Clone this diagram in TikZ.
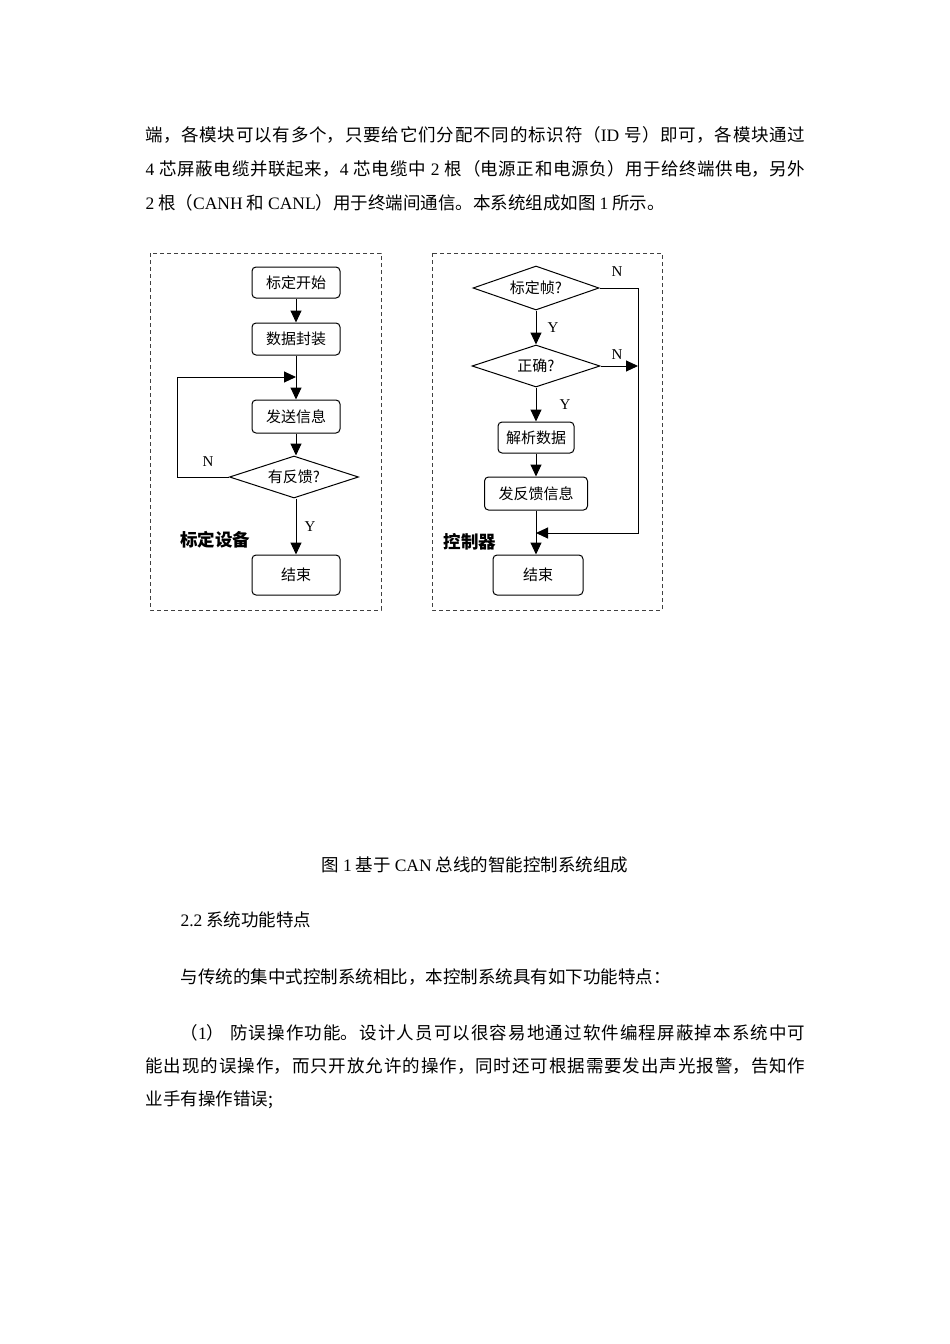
\documentclass[tikz,border=0pt]{standalone}
\usepackage{fontspec}
\setmainfont{Liberation Serif}
\newfontfamily\zh{Noto Sans CJK SC}
\newfontfamily\lat{Liberation Serif}
\newcommand\en[1]{{\lat #1}}
\XeTeXlinebreaklocale "zh"
\XeTeXlinebreakskip=0pt plus 1pt
\usetikzlibrary{arrows.meta,shapes.geometric}

\begin{document}
\begin{tikzpicture}[x=1pt,y=-1pt,
  box/.style={draw,rounded corners=4pt,line width=1pt,minimum width=88pt,minimum height=32pt,inner sep=0pt,font=\zh\fontsize{15}{18}\selectfont},
  dec/.style={draw,diamond,aspect=3,line width=1pt,minimum width=129pt,minimum height=42pt,inner sep=0pt,font=\zh\fontsize{15}{18}\selectfont},
  lbl/.style={inner sep=0pt,font=\lat\fontsize{15}{18}\selectfont},
  tag/.style={inner sep=0pt,font=\zh\bfseries\fontsize{17.5}{20}\selectfont},
  frame/.style={draw=black!75,line width=0.9pt,dash pattern=on 4pt off 3pt},
  para/.style={inner sep=0pt,text width=660pt,align=justify,font=\zh\fontsize{17.5}{34}\selectfont},
  txt/.style={inner sep=0pt,font=\zh\fontsize{17.5}{20}\selectfont},
  >={Triangle[length=12pt,width=11pt]},line width=1pt]
\useasboundingbox (0,0) rectangle (950,1344);

% text above the figure
\node[para,anchor=north west] (p1) at (145,126) {端，各模块可以有多个，只要给它们分配不同的标识符（\en{ID} 号）即可，各模块通过\linebreak
\en{4} 芯屏蔽电缆并联起来，\en{4} 芯电缆中 \en{2} 根（电源正和电源负）用于给终端供电，另外\linebreak
\en{2} 根（\en{CANH} 和 \en{CANL}）用于终端间通信。本系统组成如图 \en{1} 所示。};

% calibration device
\draw[frame] (150,253) rectangle (381,610);
\node[box,minimum height=31pt] (ks) at (296,282.5) {标定开始};
\node[box] (fz) at (296,339) {数据封装};
\node[box,minimum height=33pt] (fs) at (296,416.5) {发送信息};
\node[dec] (fk) at (294,477) {有反馈?};
\node[box,minimum height=40pt] (js1) at (296,575) {结束};
\coordinate (lc) at (177,377);
\coordinate (lj) at (296,377);
\draw[->] (ks) -- (fz);
\draw[->] (fz) -- (fs);
\draw[->] (fs) -- (fs |- fk.north);
\draw[->] (fk.south -| js1) -- (js1);
\draw[->] (fk.west) -| (lc) -- (lj);
\node[lbl] (n1) at (208,462) {N};
\node[lbl] (y1) at (310,527) {Y};
\node[tag] (t1) at (215,540) {标定设备};

% controller
\draw[frame] (432,253) rectangle (662,610);
\node[dec,minimum width=126pt,minimum height=44pt] (bd) at (536,288) {标定帧?};
\node[dec,minimum width=128pt] (zq) at (536,366) {正确?};
\node[box,minimum width=76pt,minimum height=31pt] (jx) at (536,437.5) {解析数据};
\node[box,minimum width=103pt,minimum height=33pt] (ff) at (536,493.5) {发反馈信息};
\node[box,minimum width=90pt,minimum height=40pt] (js2) at (538,575) {结束};
\coordinate (rc) at (638,533);
\coordinate (rj) at (536,533);
\coordinate (rn) at (638,366);
\draw[->] (bd) -- (zq);
\draw[->] (zq) -- (jx);
\draw[->] (jx) -- (ff);
\draw[->] (ff) -- (ff |- js2.north);
\draw[->] (bd.east) -| (rc) -- (rj);
\draw[->] (zq.east) -- (rn);
\node[lbl] (n2) at (617,272) {N};
\node[lbl] (y2) at (553,328) {Y};
\node[lbl] (n3) at (617,355) {N};
\node[lbl] (y3) at (565,405) {Y};
\node[tag] (t2) at (470,542) {控制器};

% text below the figure
\node[txt] (cap) at (475,865) {图 \en{1} 基于 \en{CAN} 总线的智能控制系统组成};
\node[txt,anchor=west] (h22) at (180,920) {\en{2.2} 系统功能特点};
\node[txt,anchor=west] (s1) at (180,977) {与传统的集中式控制系统相比，本控制系统具有如下功能特点：};
\node[para,font=\zh\fontsize{17.5}{33}\selectfont,anchor=north west] (p2) at (145,1024) {\hspace*{35pt}（\en{1}）\hspace{6pt}防误操作功能。设计人员可以很容易地通过软件编程屏蔽掉本系统中可\linebreak
能出现的误操作，而只开放允许的操作，同时还可根据需要发出声光报警，告知作\linebreak
业手有操作错误;};
\end{tikzpicture}
\end{document}
